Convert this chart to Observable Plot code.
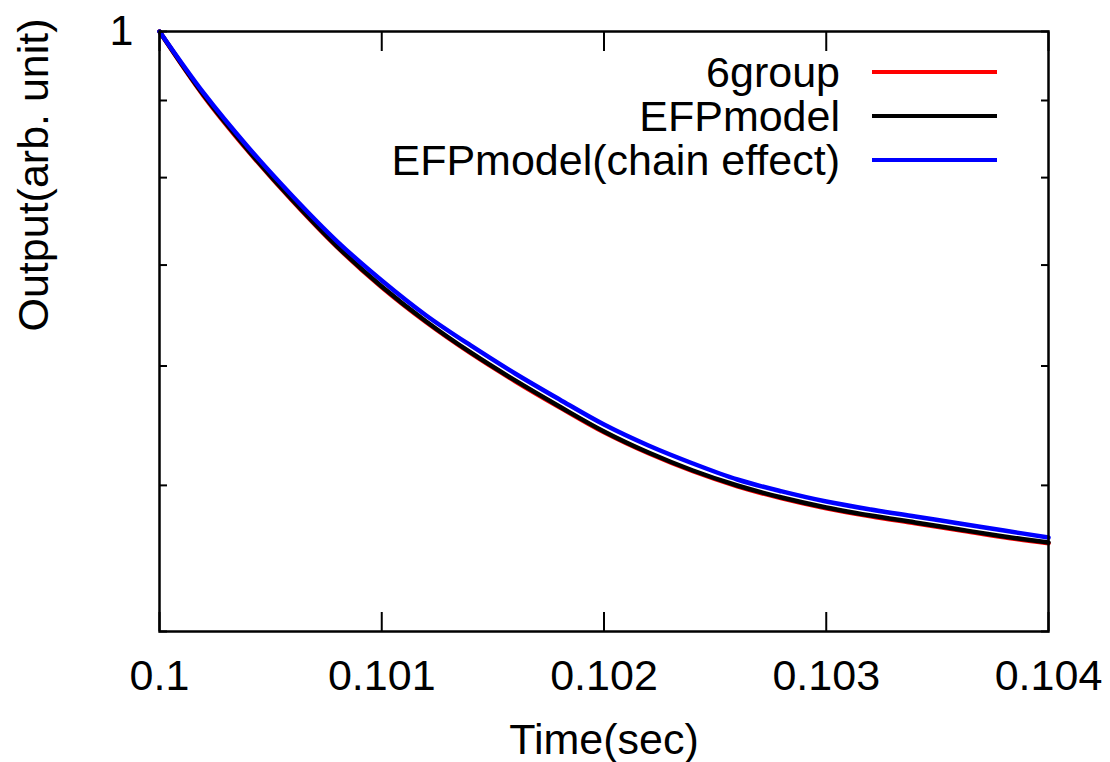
<!DOCTYPE html>
<html>
<head>
<meta charset="utf-8">
<script src="https://cdn.jsdelivr.net/npm/d3@7"></script>
<script src="https://cdn.jsdelivr.net/npm/@observablehq/plot@0.6"></script>
<style>
  html, body { margin: 0; padding: 0; background: #ffffff; }
  #chart { width: 1110px; height: 762px; overflow: hidden; }
</style>
</head>
<body>
<div id="chart"></div>
<script>
// ---- data ----
const time = [0.1000, 0.1002, 0.1004, 0.1006, 0.1008, 0.1010, 0.1012, 0.1014, 0.1016, 0.1018,
              0.1020, 0.1022, 0.1024, 0.1026, 0.1028, 0.1030, 0.1032, 0.1034, 0.1036, 0.1038, 0.1040];
const sixGroup = [1.0, 0.9058, 0.8328, 0.7716, 0.7193, 0.6766, 0.6414, 0.6118, 0.5862, 0.5633,
                  0.5422, 0.5251, 0.5109, 0.4993, 0.4902, 0.4828, 0.4769, 0.4719, 0.4669, 0.4619, 0.4577];
const efpModel = [1.0, 0.9069, 0.8338, 0.7725, 0.7201, 0.6775, 0.6422, 0.6125, 0.5869, 0.5640,
                  0.5429, 0.5257, 0.5115, 0.4999, 0.4908, 0.4834, 0.4775, 0.4725, 0.4674, 0.4625, 0.4582];
const efpChain = [1.0, 0.9097, 0.8377, 0.7773, 0.7256, 0.6837, 0.6481, 0.6191, 0.5932, 0.5701,
                  0.5487, 0.5314, 0.5170, 0.5045, 0.4954, 0.4878, 0.4819, 0.4768, 0.4717, 0.4667, 0.4617];
const seriesNames = ["6group", "EFPmodel", "EFPmodel(chain effect)"];
const seriesColors = ["#ff0000", "#000000", "#0000ff"];
const xTicks = [0.1, 0.101, 0.102, 0.103, 0.104];
const yTicks = [0.4, 0.5, 0.6, 0.7, 0.8, 0.9, 1];
const yLabeled = [1];
const xTitle = "Time(sec)";
const yTitle = "Output(arb. unit)";

const seriesValues = [sixGroup, efpModel, efpChain];
const rows = [];
seriesValues.forEach((vals, s) => {
  vals.forEach((v, i) => rows.push({series: seriesNames[s], t: time[i], v}));
});

function legend(index, scales, values, dims) {
  const g = d3.create("svg:g");
  const right = dims.width - dims.marginRight;
  const top = dims.marginTop;
  seriesNames.forEach((name, i) => {
    const cy = top + 41 + i * 44;
    g.append("text")
      .attr("x", right - 208)
      .attr("y", cy)
      .attr("dy", "0.36em")
      .attr("text-anchor", "end")
      .attr("fill", "#000")
      .text(name);
    g.append("line")
      .attr("x1", right - 176)
      .attr("x2", right - 51)
      .attr("y1", cy)
      .attr("y2", cy)
      .attr("stroke", seriesColors[i])
      .attr("stroke-width", 4);
  });
  return g.node();
}

const chart = Plot.plot({
  width: 1110,
  height: 762,
  marginLeft: 159,
  marginRight: 62,
  marginTop: 31,
  marginBottom: 131,
  style: {fontFamily: "'Liberation Sans', Arial, sans-serif", fontSize: "43px", background: "#ffffff", color: "#000"},
  x: {domain: [0.1, 0.104]},
  y: {type: "log", domain: [0.4, 1]},
  color: {domain: seriesNames, range: seriesColors},
  marks: [
    Plot.line(rows, {x: "t", y: "v", stroke: "series", z: "series", strokeWidth: 4.5, curve: "catmull-rom"}),
    // inward ticks on all four sides
    Plot.axisX(xTicks, {anchor: "bottom", tickSize: -19, strokeWidth: 2, tickFormat: () => "", label: null}),
    Plot.axisX(xTicks, {anchor: "top", tickSize: -19, strokeWidth: 2, tickFormat: () => "", label: null}),
    Plot.axisY(yTicks, {anchor: "left", tickSize: -8, strokeWidth: 2, tickFormat: () => "", label: null}),
    Plot.axisY(yTicks, {anchor: "right", tickSize: -8, strokeWidth: 2, tickFormat: () => "", label: null}),
    // tick labels
    Plot.axisX(xTicks, {anchor: "bottom", tickSize: 0, tickPadding: 28, tickFormat: d => String(d), label: null}),
    Plot.axisY(yLabeled, {anchor: "left", tickSize: 0, tickPadding: 26, tickFormat: d => String(d), label: null}),
    Plot.frame({stroke: "#000", strokeWidth: 2.5}),
    // axis titles
    Plot.text([xTitle], {frameAnchor: "bottom", dy: 109, text: d => d, lineAnchor: "middle"}),
    Plot.text([yTitle], {frameAnchor: "left", dx: -125, rotate: -90, text: d => d, lineAnchor: "middle"}),
    legend
  ]
});
document.getElementById("chart").appendChild(chart);
</script>
</body>
</html>
